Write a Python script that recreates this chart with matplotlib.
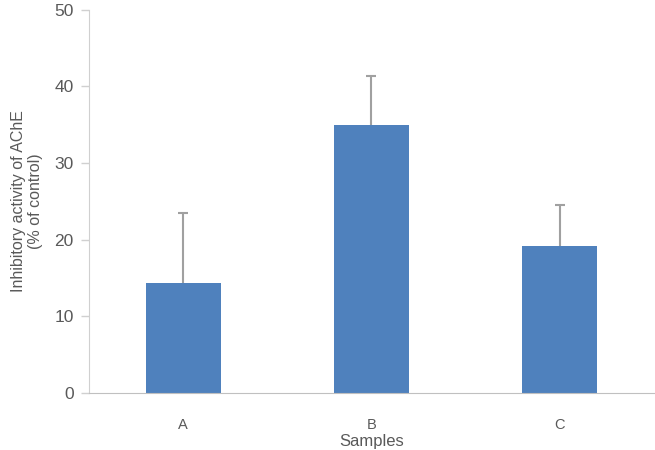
import matplotlib
matplotlib.use("Agg")
import matplotlib.pyplot as plt
import numpy as np

categories = ["A", "B", "C"]
values = [14.3, 35.0, 19.2]
errors = [9.2, 6.4, 5.3]
yticks = [0, 10, 20, 30, 40, 50]

plt.rcParams['font.family'] = ['Liberation Sans', 'DejaVu Sans']

fig = plt.figure(figsize=(6.55, 4.5), dpi=100)
ax = fig.add_axes([0.136, 0.1273, 0.862, 0.851])

x = np.arange(len(categories))
vals = np.array(values)
tops = vals + np.array(errors)
ax.vlines(x, vals, tops, colors="#a0a0a0", linewidth=1.5, zorder=1)
ax.scatter(x, tops, marker="_", s=60, color="#a0a0a0", linewidths=1.5, zorder=1)
ax.bar(x, vals, width=0.4, color="#4f81bd", zorder=2)

ax.set_xlim(-0.5, 2.5)
ax.set_ylim(0, 50)
ax.set_yticks(yticks)
ax.set_xticks(x)
ax.set_xticklabels(categories)

for s in ["top", "right"]:
    ax.spines[s].set_visible(False)
ax.spines["left"].set_color("#d0d0d0")
ax.spines["bottom"].set_color("#c0c0c0")
ax.tick_params(axis="y", colors="#d0d0d0", labelcolor="#595959", labelsize=12.5, length=6, width=1, pad=5)
ax.tick_params(axis="x", length=0, labelcolor="#595959", labelsize=10.5, pad=18)

ax.set_ylabel("Inhibitory activity of AChE\n(% of control)", color="#595959", fontsize=11.5, labelpad=8)
ax.set_xlabel("Samples", color="#595959", fontsize=12, labelpad=2)

fig.savefig("out.png", dpi=100)
